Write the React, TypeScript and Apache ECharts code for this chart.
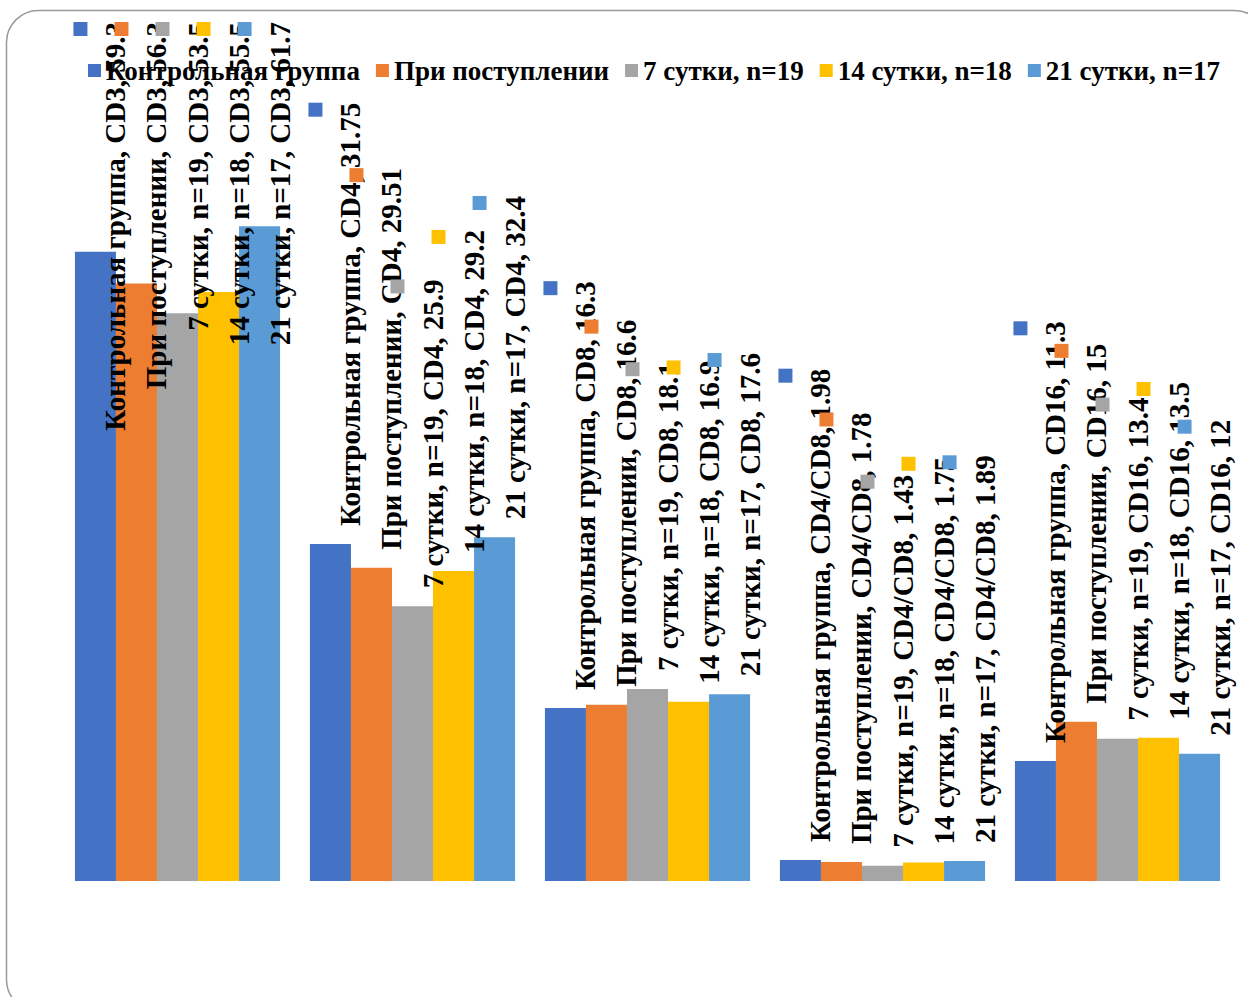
import React, { useEffect, useRef } from "react";
import * as echarts from "echarts";

const categories = ["CD3", "CD4", "CD8", "CD4/CD8", "CD16"];
const seriesNames = [
  "Контрольная группа",
  "При поступлении",
  "7 сутки, n=19",
  "14 сутки, n=18",
  "21 сутки, n=17",
];
const control = [59.3, 31.75, 16.3, 1.98, 11.3];
const admission = [56.3, 29.51, 16.6, 1.78, 15];
const day7 = [53.5, 25.9, 18.1, 1.43, 13.4];
const day14 = [55.5, 29.2, 16.9, 1.75, 13.5];
const day21 = [61.7, 32.4, 17.6, 1.89, 12];

const colors = ["#4472C4", "#ED7D31", "#A5A5A5", "#FFC000", "#5B9BD5"];
const FONT = "'Liberation Serif', 'Times New Roman', serif";

export default function App() {
  const ref = useRef<HTMLDivElement>(null);
  useEffect(() => {
    if (!ref.current) return;
    const chart = echarts.init(ref.current, undefined, { renderer: "svg" });
    const seriesData = [control, admission, day7, day14, day21];
    chart.setOption({
      animation: false,
      backgroundColor: "#ffffff",
      grid: { left: 60, right: 13, top: 32, bottom: 116, containLabel: false },
      xAxis: {
        type: "category",
        data: categories,
        show: false,
      },
      yAxis: { type: "value", min: 0, max: 80, show: false, splitLine: { show: false } },
      legend: {
        left: 88,
        top: 57,
        padding: 0,
        itemWidth: 13,
        itemHeight: 13,
        itemGap: 16,
        icon: "rect",
        data: seriesNames,
        textStyle: { fontSize: 27, fontWeight: "bold", fontFamily: FONT, color: "#000" },
      },
      graphic: [
        {
          type: "rect",
          silent: true,
          z: -1,
          shape: { x: 6.5, y: 10.5, width: 1260, height: 1001, r: 32 },
          style: { fill: "none", stroke: "#9a9a9a", lineWidth: 1.5 },
        },
      ],
      series: seriesData.map((d, i) => ({
        type: "bar",
        name: seriesNames[i],
        data: d,
        barGap: "0%",
        barCategoryGap: "12.7%",
        itemStyle: { color: colors[i] },
        label: {
          show: true,
          position: "top",
          rotate: 90,
          align: "left",
          verticalAlign: "middle",
          formatter: (p: any) => `{k|}\n{t|${p.seriesName}, ${p.name}, ${p.value}}`,
          rich: {
            k: { width: 14, height: 14, backgroundColor: colors[i], align: "right", lineHeight: 30 },
            t: { fontSize: 29, fontWeight: "bold", fontFamily: FONT, color: "#000", lineHeight: 40 },
          },
        },
        labelLayout: (p: any) => {
          const r = p.rect;
          const lr = p.labelRect;
          const x = r.x + r.width / 2 + 5;
          const y = Math.max(r.y - 18, 22 + lr.height);
          return { x, y };
        },
      })),
    });
    return () => chart.dispose();
  }, []);
  return (
    <div
      ref={ref}
      style={{ position: "absolute", left: 0, top: 0, width: 1248, height: 997 }}
    />
  );
}
